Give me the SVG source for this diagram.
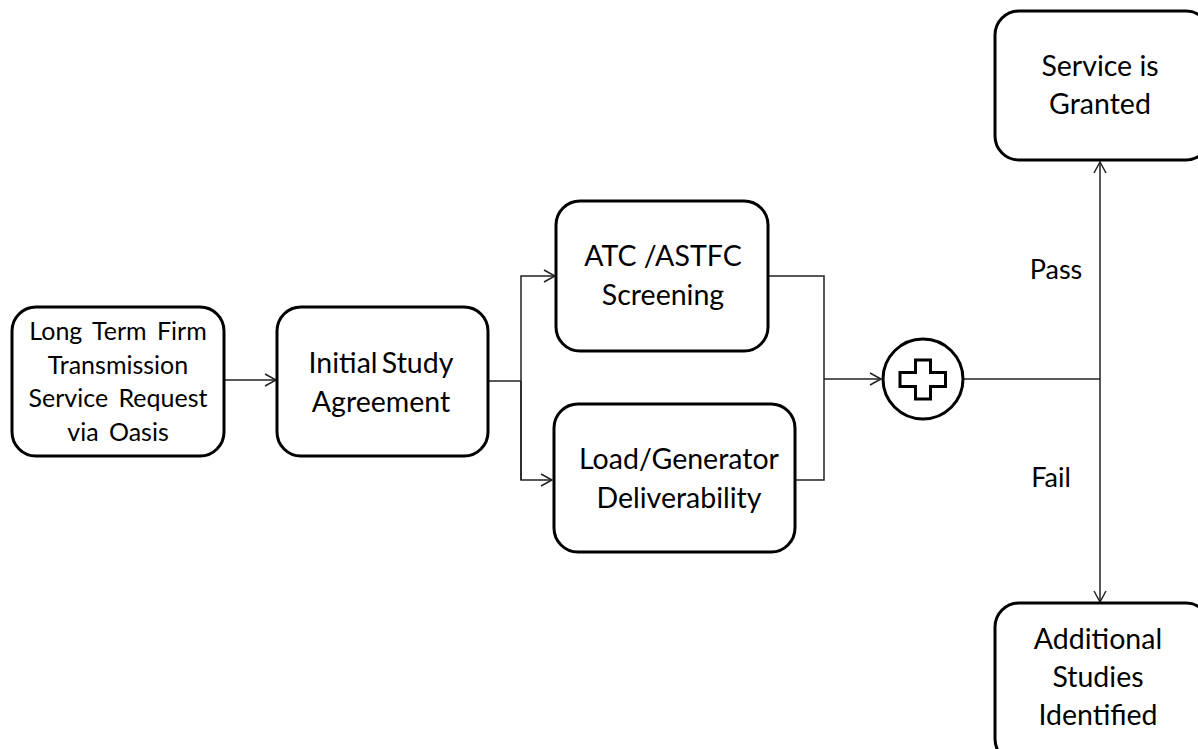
<svg xmlns="http://www.w3.org/2000/svg" width="1198" height="749" viewBox="0 0 1198 749">
<defs>
<style>
.box{fill:#fff;stroke:#000;stroke-width:3}
.t{font-family:Lato,"Open Sans","Liberation Sans",sans-serif;fill:#000;text-anchor:middle}
.big{font-size:28.5px}
.c{fill:none;stroke:#222;stroke-width:1.5}
</style>
<marker id="arr" markerWidth="14" markerHeight="14" refX="12" refY="7" orient="auto" markerUnits="userSpaceOnUse">
<path d="M1,1 L12,7 L1,13" fill="none" stroke="#222" stroke-width="1.5"/>
</marker>
</defs>
<rect width="1198" height="749" fill="#fff"/>
<g id="connectors">
<line class="c" x1="224" y1="380" x2="276" y2="380" marker-end="url(#arr)"/>
<polyline class="c" points="488,381 521,381"/>
<polyline class="c" points="521,480 521,276 555,276" marker-end="url(#arr)"/>
<polyline class="c" points="521,381 521,480 552,480" marker-end="url(#arr)"/>
<polyline class="c" points="768,276 824,276 824,480 795,480"/>
<line class="c" x1="824" y1="379" x2="881" y2="379" marker-end="url(#arr)"/>
<line class="c" x1="964" y1="379" x2="1100" y2="379"/>
<line class="c" x1="1100" y1="379" x2="1100" y2="162" marker-end="url(#arr)"/>
<line class="c" x1="1100" y1="379" x2="1100" y2="602" marker-end="url(#arr)"/>
<text class="t" x="1056" y="279" font-size="27">Pass</text>
<text class="t" x="1051" y="487" font-size="27">Fail</text>
</g>
<g id="n1">
<rect class="box" x="12" y="307" width="212" height="149" rx="24"/>
<text class="t" font-size="25" word-spacing="4"><tspan x="118" y="340">Long Term Firm</tspan><tspan x="118" y="374">Transmission</tspan><tspan x="118" y="407">Service Request</tspan><tspan x="118" y="441">via Oasis</tspan></text>
</g>
<g id="n2">
<rect class="box" x="277" y="307" width="211" height="149" rx="24"/>
<text class="t big" word-spacing="-3"><tspan x="381" y="373">Initial Study</tspan><tspan x="381" y="412">Agreement</tspan></text>
</g>
<g id="n3">
<rect class="box" x="556" y="201" width="212" height="150" rx="24"/>
<text class="t big"><tspan x="663" y="266">ATC /ASTFC</tspan><tspan x="663" y="305">Screening</tspan></text>
</g>
<g id="n4">
<rect class="box" x="554" y="404" width="241" height="148" rx="24"/>
<text class="t big"><tspan x="679" y="469">Load/Generator</tspan><tspan x="679" y="508">Deliverability</tspan></text>
</g>
<g id="n5">
<circle cx="923" cy="379" r="40" fill="#fff" stroke="#000" stroke-width="3"/>
<path d="M915.5,360 h15 v12.5 h15 v14 h-15 v12.5 h-15 v-12.5 h-15.5 v-14 h15.5 Z" fill="#fff" stroke="#000" stroke-width="3"/>
</g>
<g id="n6">
<rect class="box" x="995" y="11" width="215" height="149" rx="24"/>
<text class="t big"><tspan x="1100" y="76">Service is</tspan><tspan x="1100" y="114">Granted</tspan></text>
</g>
<g id="n7">
<rect class="box" x="995" y="603" width="215" height="160" rx="24"/>
<text class="t big"><tspan x="1098" y="649">Additional</tspan><tspan x="1098" y="687">Studies</tspan><tspan x="1098" y="725">Identified</tspan></text>
</g>
</svg>
